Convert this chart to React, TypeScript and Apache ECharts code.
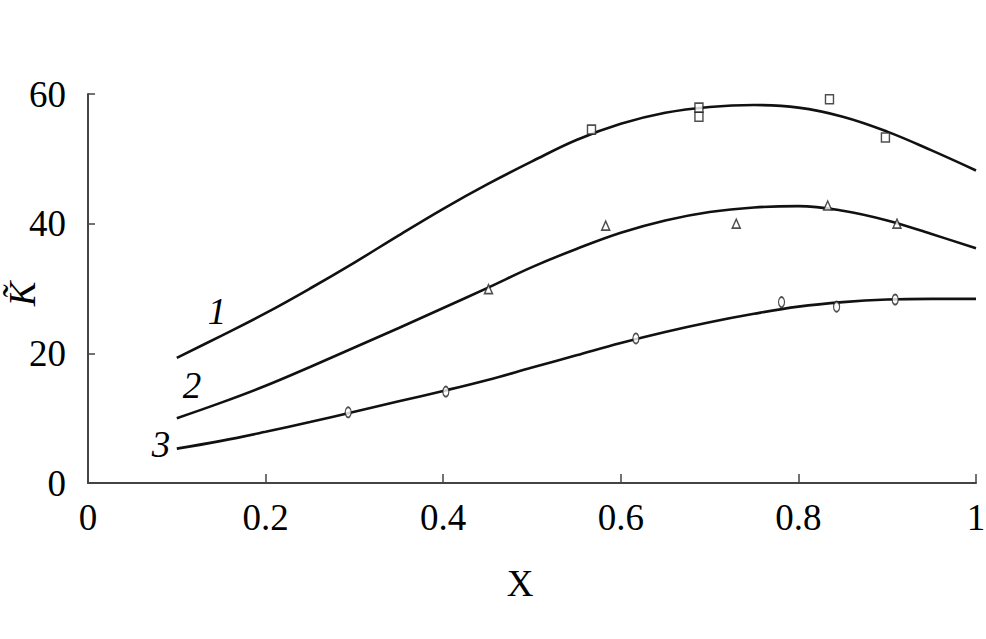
import React, { useEffect, useRef } from "react";
import * as echarts from "echarts";

const xGrid = [0.1, 0.15, 0.2, 0.25, 0.3, 0.35, 0.4, 0.45, 0.5, 0.55, 0.6, 0.65, 0.7, 0.75, 0.8, 0.85, 0.9, 0.95, 1.0];
const curve1 = [19.3, 22.7, 26.2, 30.0, 34.0, 38.2, 42.3, 46.1, 49.6, 52.9, 55.4, 57.1, 58.0, 58.3, 57.9, 56.5, 54.2, 51.3, 48.2];
const curve2 = [10.0, 12.4, 15.0, 17.9, 20.9, 23.9, 27.0, 30.1, 33.3, 36.1, 38.6, 40.5, 41.8, 42.5, 42.7, 42.0, 40.5, 38.4, 36.2];
const curve3 = [5.3, 6.5, 7.9, 9.4, 11.0, 12.6, 14.2, 15.9, 17.8, 19.7, 21.6, 23.3, 24.8, 26.1, 27.2, 27.9, 28.3, 28.4, 28.4];

const squareX = [0.567, 0.688, 0.688, 0.835, 0.898];
const squareY = [54.5, 56.5, 57.9, 59.2, 53.3];
const triangleX = [0.451, 0.583, 0.73, 0.833, 0.911];
const triangleY = [29.9, 39.7, 40.0, 42.8, 40.0];
const circleX = [0.293, 0.403, 0.617, 0.781, 0.843, 0.909];
const circleY = [10.9, 14.1, 22.3, 27.9, 27.2, 28.3];

const curveLabels = ["1", "2", "3"];
const xTicks = { min: 0, max: 1, interval: 0.2 };
const yTicks = { min: 0, max: 60, interval: 20 };

const FONT = "'Liberation Serif', 'Times New Roman', serif";

export default function App() {
  const ref = useRef<HTMLDivElement>(null);
  useEffect(() => {
    if (!ref.current) return;
    const chart = echarts.init(ref.current, null, { renderer: "svg" });
    const pair = (xs: number[], ys: number[]) => xs.map((x, i) => [x, ys[i]]);
    const lineSeries = (d: number[]) => ({
      type: "line",
      data: pair(xGrid, d),
      smooth: 0.4,
      showSymbol: false,
      symbol: "none",
      lineStyle: { color: "#111", width: 2.6 },
      z: 2,
    });
    const markerStyle = { color: "#fff", borderColor: "#222", borderWidth: 1.5 };
    chart.setOption({
      animation: false,
      grid: { left: 88, right: 10, top: 94, bottom: 156, containLabel: false, outerBoundsMode: "none" },
      xAxis: {
        type: "value",
        min: xTicks.min,
        max: xTicks.max,
        interval: xTicks.interval,
        splitLine: { show: false },
        axisLine: { show: true, lineStyle: { color: "#444", width: 2 } },
        axisTick: { show: true, inside: true, length: 9, lineStyle: { color: "#444", width: 1.5 } },
        axisLabel: { margin: 16, fontSize: 37, fontFamily: FONT, color: "#000" },
      },
      yAxis: {
        type: "value",
        min: yTicks.min,
        max: yTicks.max,
        interval: yTicks.interval,
        splitLine: { show: false },
        axisLine: { show: true, lineStyle: { color: "#444", width: 2 } },
        axisTick: { show: true, inside: true, length: 7, lineStyle: { color: "#444", width: 1.5 } },
        axisLabel: { margin: 22, fontSize: 37, fontFamily: FONT, color: "#000" },
      },
      series: [
        lineSeries(curve1),
        lineSeries(curve2),
        lineSeries(curve3),
        {
          type: "scatter",
          data: pair(squareX, squareY),
          symbol: "rect",
          symbolSize: [8, 9],
          itemStyle: markerStyle,
          z: 3,
        },
        {
          type: "scatter",
          data: pair(triangleX, triangleY),
          symbol: "triangle",
          symbolSize: [8, 9],
          itemStyle: markerStyle,
          z: 3,
        },
        {
          type: "scatter",
          data: pair(circleX, circleY),
          symbol: "circle",
          symbolSize: [6, 10],
          itemStyle: markerStyle,
          z: 3,
        },
      ],
      graphic: [
        {
          type: "text",
          x: 217,
          y: 311,
          style: { text: curveLabels[0], font: `italic 37px ${FONT}`, fill: "#000", align: "center", verticalAlign: "middle" },
        },
        {
          type: "text",
          x: 192,
          y: 385,
          style: { text: curveLabels[1], font: `italic 37px ${FONT}`, fill: "#000", align: "center", verticalAlign: "middle" },
        },
        {
          type: "text",
          x: 161,
          y: 444,
          style: { text: curveLabels[2], font: `italic 37px ${FONT}`, fill: "#000", align: "center", verticalAlign: "middle" },
        },
        {
          type: "text",
          x: 520,
          y: 583,
          style: { text: "X", font: `37px ${FONT}`, fill: "#000", align: "center", verticalAlign: "middle" },
        },
        {
          type: "text",
          x: 22,
          y: 294,
          rotation: Math.PI / 2,
          style: { text: "K\u0303", font: `italic 37px ${FONT}`, fill: "#000", align: "center", verticalAlign: "middle" },
        },
      ],
    });
    return () => chart.dispose();
  }, []);
  return <div ref={ref} style={{ width: 986, height: 639, position: "absolute", left: 0, top: 0, background: "#fff" }} />;
}
